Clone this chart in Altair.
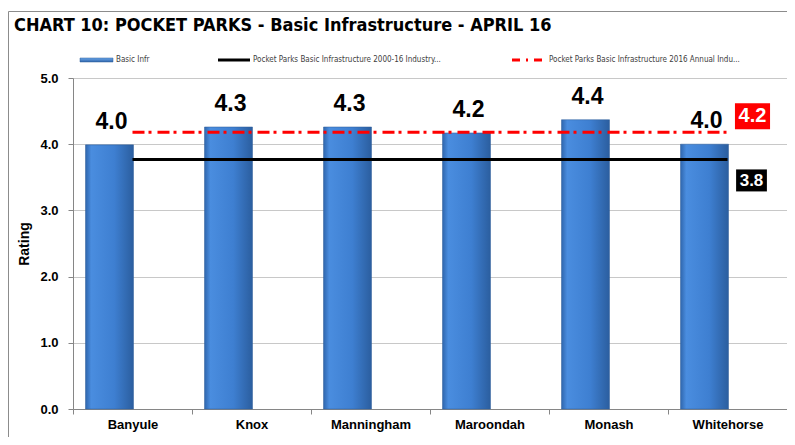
import altair as alt
import pandas as pd

# ---- data ----
categories = ["Banyule", "Knox", "Manningham", "Maroondah", "Monash", "Whitehorse"]
basic_infr = [3.99, 4.26, 4.26, 4.17, 4.37, 4.00]
industry_avg = 3.77   # 2000-16 industry average
annual_avg = 4.18     # 2016 annual industry average
y_ticks = [0, 1, 2, 3, 4, 5]
title_text = "CHART 10:  POCKET PARKS - Basic Infrastructure - APRIL 16"
legend_labels = [
    "Basic Infr",
    "Pocket Parks Basic Infrastructure 2000-16 Industry...",
    "Pocket Parks Basic Infrastructure 2016 Annual Indu...",
]

bars_df = pd.DataFrame({"cat": categories, "val": basic_infr})
ind_df = pd.DataFrame({"cat": categories, "val": [industry_avg] * len(categories)})
ann_df = pd.DataFrame({"cat": categories, "val": [annual_avg] * len(categories)})
ind_last = pd.DataFrame({"cat": [categories[-1]], "val": [industry_avg]})
ann_last = pd.DataFrame({"cat": [categories[-1]], "val": [annual_avg]})

W, H = 714, 331
FONT = "Liberation Sans"
NARROW = "DejaVu Sans Condensed, Liberation Sans"

xenc = alt.X(
    "cat:N",
    sort=categories,
    scale=alt.Scale(paddingInner=0, paddingOuter=0),
    axis=alt.Axis(
        title=None, labelAngle=0, labelFont=FONT, labelFontSize=13, labelFontWeight="bold",
        labelColor="#000000", tickBand="extent", tickSize=5, tickColor="#868686",
        domainColor="#868686", labelPadding=4, grid=False,
    ),
)
yenc = alt.Y(
    "val:Q",
    scale=alt.Scale(domain=[0, 5], nice=False, zero=True),
    axis=alt.Axis(
        title="Rating", values=y_ticks, format=".1f", labelFont=FONT, labelFontSize=13,
        labelFontWeight="bold", labelColor="#000000", titleFont=FONT, titleFontSize=14,
        titleFontWeight="bold", titleColor="#000000", titlePadding=8, tickSize=5,
        tickColor="#868686", domainColor="#868686", labelPadding=10, grid=True,
        gridColor="#c8c8c8",
    ),
)

grad = alt.Gradient(
    gradient="linear",
    stops=[
        alt.GradientStop(color="#2f66ad", offset=0),
        alt.GradientStop(color="#4a8ddf", offset=0.12),
        alt.GradientStop(color="#3e7fd1", offset=0.6),
        alt.GradientStop(color="#2b5e9f", offset=1),
    ],
    x1=0, x2=1, y1=0, y2=0,
)

bars = alt.Chart(bars_df).mark_bar(
    width=48, xOffset=-23, color=grad, stroke="#2d5c99", strokeWidth=0.5
).encode(x=xenc, y=yenc)

bar_labels = alt.Chart(bars_df).mark_text(
    font=FONT, fontSize=23, fontWeight="bold", color="#000000", xOffset=-21, dy=-16,
    baseline="alphabetic",
).encode(x=alt.X("cat:N", sort=categories), y="val:Q", text=alt.Text("val:Q", format=".1f"))

ind_line = alt.Chart(ind_df).mark_line(color="#000000", strokeWidth=3).encode(
    x=alt.X("cat:N", sort=categories), y="val:Q"
)
ann_line = alt.Chart(ann_df).mark_line(
    color="#ff0000", strokeWidth=3, strokeDash=[12, 4, 3, 6]
).encode(x=alt.X("cat:N", sort=categories), y="val:Q")

box_shape = "M-1.35,-1L1.35,-1L1.35,1L-1.35,1Z"
ann_box = alt.Chart(ann_last).mark_point(
    shape=box_shape, size=26 * 26, filled=True, color="#ff0000", opacity=1,
    xOffset=25, yOffset=-16,
).encode(x=alt.X("cat:N", sort=categories), y="val:Q")
ann_text = alt.Chart(ann_last).mark_text(
    font=FONT, fontSize=20, fontWeight="bold", color="#ffffff", xOffset=25, yOffset=-16,
    baseline="middle",
).encode(x=alt.X("cat:N", sort=categories), y="val:Q", text=alt.Text("val:Q", format=".1f"))

ind_box = alt.Chart(ind_last).mark_point(
    shape="M-1.4,-1L1.4,-1L1.4,1L-1.4,1Z", size=22 * 22, filled=True, color="#000000",
    opacity=1, xOffset=24, yOffset=21,
).encode(x=alt.X("cat:N", sort=categories), y="val:Q")
ind_text = alt.Chart(ind_last).mark_text(
    font=FONT, fontSize=17, fontWeight="bold", color="#ffffff", xOffset=24, yOffset=22,
    baseline="middle",
).encode(x=alt.X("cat:N", sort=categories), y="val:Q", text=alt.Text("val:Q", format=".1f"))

# ---- title and legend (decoration placed in pixels) ----
title = alt.Chart(pd.DataFrame({"t": [title_text]})).mark_text(
    font=NARROW, fontSize=18, fontWeight="bold", color="#000000",
    align="left", baseline="alphabetic",
).encode(x=alt.value(-59), y=alt.value(-47), text="t:N")

border = alt.Chart(pd.DataFrame({"a": [0]})).mark_rule(color="#8c8c8c", strokeWidth=1).encode(
    x=alt.value(-64.5), x2=alt.value(W + 10), y=alt.value(-66.5)
)
border_left = alt.Chart(pd.DataFrame({"a": [0]})).mark_rule(color="#8c8c8c", strokeWidth=1).encode(
    x=alt.value(-64.5), y=alt.value(-66.5), y2=alt.value(H + 40)
)

leg_swatch = alt.Chart(pd.DataFrame({"a": [0]})).mark_rect(
    color=alt.Gradient(
        gradient="linear",
        stops=[alt.GradientStop(color="#6aa6ea", offset=0), alt.GradientStop(color="#2f65ab", offset=1)],
        x1=0, x2=0, y1=0, y2=1,
    ),
    stroke="#2d5c99", strokeWidth=0.5,
).encode(x=alt.value(7), x2=alt.value(40), y=alt.value(-20), y2=alt.value(-16))
leg_black = alt.Chart(pd.DataFrame({"a": [0]})).mark_rule(color="#000000", strokeWidth=3).encode(
    x=alt.value(145), x2=alt.value(177), y=alt.value(-18)
)
leg_red = alt.Chart(pd.DataFrame({"a": [0]})).mark_rule(
    color="#ff0000", strokeWidth=3, strokeDash=[8, 6, 2, 6]
).encode(x=alt.value(439), x2=alt.value(474), y=alt.value(-18))

leg_text_x = [43, 180, 476]
leg_texts = [
    alt.Chart(pd.DataFrame({"t": [lab]})).mark_text(
        font=NARROW, fontSize=8, color="#404040", align="left", baseline="middle"
    ).encode(x=alt.value(px), y=alt.value(-18), text="t:N")
    for lab, px in zip(legend_labels, leg_text_x)
]

chart = alt.layer(
    bars, ind_line, ann_line, bar_labels, ann_box, ann_text, ind_box, ind_text,
    title, border, border_left, leg_swatch, leg_black, leg_red, *leg_texts,
).properties(
    width=W, height=H,
    autosize=alt.AutoSizeParams(type="none"),
    padding={"left": 65, "top": 70, "right": 0, "bottom": 28},
).configure_view(stroke=None).configure(background="#ffffff")

chart.save("out.html", embed_options={"renderer": "svg", "actions": False})
